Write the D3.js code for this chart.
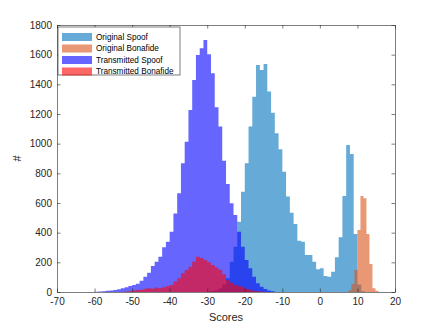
<!DOCTYPE html>
<html>
<head>
<meta charset="utf-8">
<script src="https://cdn.jsdelivr.net/npm/d3@7"></script>
<style>
  body { margin: 0; background: #fff; }
  svg { display: block; font-family: "Liberation Sans", Arial, sans-serif; }
</style>
</head>
<body>
<svg width="436" height="327"></svg>
<script>
// histogram counts, one value per bin, bins start at the given left edge
var origSpoofStart = -30, origSpoofWidth = 1;
var origSpoofCounts = [3, 6, 12, 25, 50, 92, 204, 305, 474, 676, 868, 1115, 1317, 1531, 1497, 1537,
    1351, 1209, 1070, 962, 811, 643, 535, 458, 346, 339, 249, 249, 204, 153, 160, 108, 103, 137,
    234, 369, 647, 991, 931, 391, 50, 5];

var origBonaStart = 7.6, origBonaWidth = 0.8;
var origBonaCounts = [12, 54, 148, 418, 647, 632, 391, 189, 25, 9];

var transSpoofStart = -60, transSpoofWidth = 1;
var transSpoofCounts = [2, 3, 5, 8, 10, 14, 18, 25, 32, 40, 48, 56, 76, 103, 130, 175, 204, 238,
    301, 339, 407, 530, 666, 868, 1013, 1227, 1430, 1598, 1643, 1699, 1603, 1475, 1245, 1115,
    885, 728, 598, 519, 407, 305, 216, 160, 103, 59, 36, 20, 10, 5];

var transBonaStart = -52, transBonaWidth = 1;
var transBonaCounts = [3, 5, 10, 13, 16, 22, 25, 22, 30, 25, 32, 38, 47, 70, 92, 126, 148, 171,
    204, 238, 230, 216, 200, 182, 165, 150, 120, 81, 63, 47, 40, 32, 22, 14, 9, 5, 3];

var seriesNames = ["Original Spoof", "Original Bonafide", "Transmitted Spoof", "Transmitted Bonafide"];
var seriesColors = ["#0072BD", "#D95319", "#0000FF", "#FF0000"];

var xTicks = d3.range(-70, 21, 10);
var yTicks = d3.range(0, 1801, 200);

var svg = d3.select("svg");
var margin = { left: 57, right: 41, top: 25, bottom: 35 };
var width = 436 - margin.left - margin.right,
    height = 327 - margin.top - margin.bottom;
var axisColor = "#262626";

var x = d3.scaleLinear().domain([-70, 20]).range([0, width]);
var y = d3.scaleLinear().domain([0, 1800]).range([height, 0]);

var g = svg.append("g").attr("transform", "translate(" + margin.left + "," + margin.top + ")");

function toSteps(start, w, counts) {
    var pts = counts.map(function (c, i) { return [start + i * w, c]; });
    pts.push([start + counts.length * w, 0]);
    return pts;
}

var area = d3.area()
    .curve(d3.curveStepAfter)
    .x(function (d) { return x(d[0]); })
    .y0(y(0))
    .y1(function (d) { return y(d[1]); });

var hists = [
    toSteps(origSpoofStart, origSpoofWidth, origSpoofCounts),
    toSteps(origBonaStart, origBonaWidth, origBonaCounts),
    toSteps(transSpoofStart, transSpoofWidth, transSpoofCounts),
    toSteps(transBonaStart, transBonaWidth, transBonaCounts)
];

g.selectAll("path.hist")
    .data(hists)
    .enter().append("path")
    .attr("class", "hist")
    .attr("d", area)
    .attr("fill", function (d, i) { return seriesColors[i]; })
    .attr("fill-opacity", 0.6);

// axes (ticks inside, box on)
var tk = 3.5;
var plain = function (d) { return String(d); }; // matlab style hyphen minus, no thousands comma
function styleAxis(sel, showText) {
    sel.selectAll("path, line").attr("stroke", axisColor).attr("stroke-width", 0.6);
    sel.selectAll("text").attr("fill", axisColor).attr("font-size", "10px");
    if (!showText) sel.selectAll("text").remove();
}

g.append("g")
    .attr("transform", "translate(0," + height + ")")
    .call(d3.axisBottom(x).tickValues(xTicks).tickFormat(plain).tickSizeInner(-tk).tickSizeOuter(0).tickPadding(6))
    .call(styleAxis, true);
g.append("g")
    .call(d3.axisTop(x).tickValues(xTicks).tickSizeInner(-tk).tickSizeOuter(0))
    .call(styleAxis, false);
g.append("g")
    .call(d3.axisLeft(y).tickValues(yTicks).tickFormat(plain).tickSizeInner(-tk).tickSizeOuter(0).tickPadding(5))
    .call(styleAxis, true);
g.append("g")
    .attr("transform", "translate(" + width + ",0)")
    .call(d3.axisRight(y).tickValues(yTicks).tickSizeInner(-tk).tickSizeOuter(0))
    .call(styleAxis, false);

g.selectAll(".domain").attr("fill", "none");

// axis labels
svg.append("text")
    .attr("x", margin.left + width / 2)
    .attr("y", 321)
    .attr("text-anchor", "middle")
    .attr("font-size", "11px")
    .attr("fill", axisColor)
    .text("Scores");

svg.append("text")
    .attr("transform", "translate(21," + (margin.top + height / 2) + ") rotate(-90)")
    .attr("text-anchor", "middle")
    .attr("font-size", "11px")
    .attr("fill", axisColor)
    .text("#");

// legend
var legend = g.append("g").attr("transform", "translate(1,2)");
legend.append("rect")
    .attr("width", 122)
    .attr("height", 48)
    .attr("fill", "#fff")
    .attr("stroke", axisColor)
    .attr("stroke-width", 0.6);

var rows = legend.selectAll("g.row")
    .data(seriesNames)
    .enter().append("g")
    .attr("class", "row")
    .attr("transform", function (d, i) { return "translate(4," + (6 + i * 11.5) + ")"; });

rows.append("rect")
    .attr("width", 30)
    .attr("height", 8)
    .attr("fill", function (d, i) { return seriesColors[i]; })
    .attr("fill-opacity", 0.6);

rows.append("text")
    .attr("x", 34)
    .attr("y", 4)
    .attr("dy", "0.35em")
    .attr("font-size", "8.2px")
    .attr("fill", "#000")
    .text(function (d) { return d; });
</script>
</body>
</html>
